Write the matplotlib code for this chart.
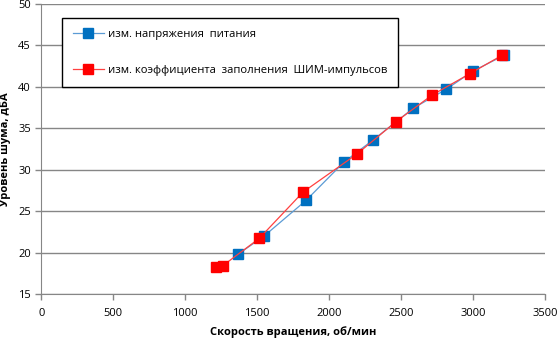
import matplotlib.pyplot as plt

# скорость вращения (об/мин) и уровень шума (дБА)
rpm_voltage = [1368, 1549, 1840, 2102, 2306, 2583, 2813, 3000, 3215]
noise_voltage = [19.8, 22.0, 26.3, 30.9, 33.6, 37.4, 39.7, 41.9, 43.8]

rpm_pwm = [1211, 1260, 1514, 1819, 2194, 2465, 2715, 2979, 3201]
noise_pwm = [18.2, 18.4, 21.7, 27.3, 31.9, 35.8, 39.0, 41.6, 43.8]

x_ticks = [0, 500, 1000, 1500, 2000, 2500, 3000, 3500]
y_ticks = [15, 20, 25, 30, 35, 40, 45, 50]

plt.rcParams['font.family'] = ['Open Sans', 'DejaVu Sans']

fig = plt.figure(figsize=(5.59, 3.45), dpi=100)
ax = fig.add_axes([0.0739, 0.148, 0.9011, 0.8405])

ax.plot(rpm_voltage, noise_voltage, color='#5b9bd5', lw=0.9,
        marker='s', ms=6.5, mfc='#0070c0', mec='#0070c0',
        label='изм. напряжения  питания')
ax.plot(rpm_pwm, noise_pwm, color='#ff4040', lw=0.9,
        marker='s', ms=6.5, mfc='#ff0000', mec='#ff0000',
        label='изм. коэффициента  заполнения  ШИМ-импульсов')

ax.set_xlim(0, 3500)
ax.set_ylim(15, 50)
ax.set_xticks(x_ticks)
ax.set_yticks(y_ticks)
ax.grid(axis='y', color='#868686', lw=1)
ax.set_axisbelow(True)

for s in ['top', 'right']:
    ax.spines[s].set_visible(False)
for s in ['left', 'bottom']:
    ax.spines[s].set_color('#868686')
ax.tick_params(axis='both', colors='#868686', labelcolor='black',
               labelsize=8, length=4, width=1)
ax.tick_params(axis='x', pad=6)

ax.set_xlabel('Скорость вращения, об/мин', fontsize=8, fontweight='bold', labelpad=5)
ax.set_ylabel('Уровень шума, дБА', fontsize=8, fontweight='bold', labelpad=5)

leg = ax.legend(loc='upper left', bbox_to_anchor=(0.041, 0.952), fontsize=8.1,
                frameon=True, fancybox=False, edgecolor='black', framealpha=1,
                borderpad=1.0, labelspacing=2.2, handlelength=2.7,
                handletextpad=0.35, borderaxespad=0)
leg.get_frame().set_linewidth(1)

fig.savefig('out.png', dpi=100)
